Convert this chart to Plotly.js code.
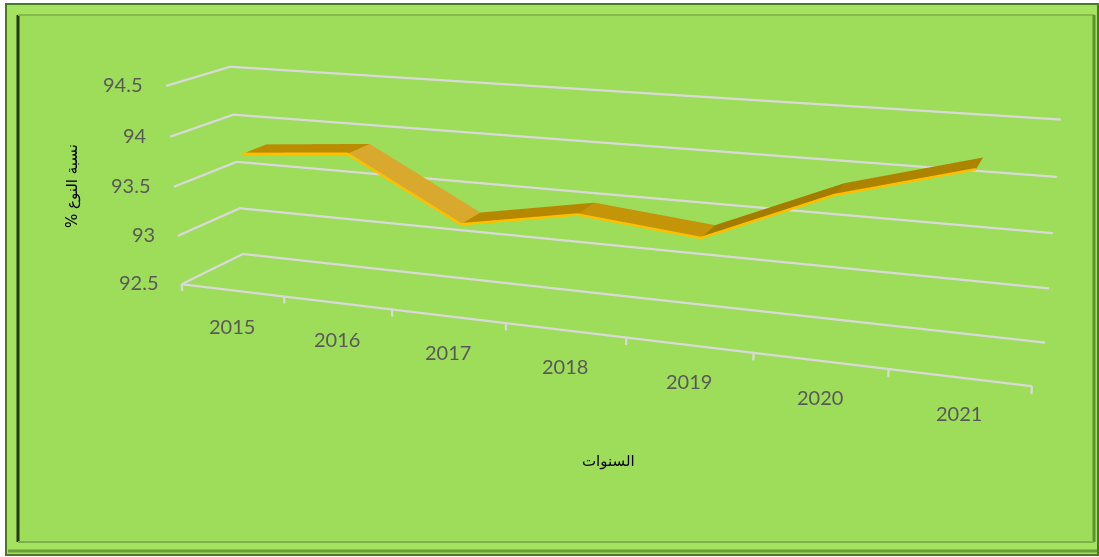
<!DOCTYPE html>
<html><head><meta charset="utf-8">
<script src="https://cdn.plot.ly/plotly-3.0.1.min.js"></script>
<style>
html,body{margin:0;padding:0;overflow:hidden;background:#fff}
#wrap{position:relative;width:1099px;height:557px;overflow:hidden}
#chart{position:absolute;left:-14px;top:-454px;width:1200px;height:1325px}
</style>
</head><body><div id="wrap"><div id="chart"></div></div>
<script>
// ---- data ----
const years = ['2015', '2016', '2017', '2018', '2019', '2020', '2021'];
const ratio = [93.8, 93.89, 93.3, 93.5, 93.39, 93.88, 94.2];
const zTickVals = [92.5, 93, 93.5, 94, 94.5];
const zTickText = ['92.5', '93', '93.5', '94', '94.5'];
const xTitle = 'السنوات';
const yTitle = '% نسبة النوع';

// ---- page geometry (big plot div; the window shows a band of it) ----
const BW = 1200, BH = 1325, LEFT = -14, TOP = -454;
const px = x => (x - LEFT) / BW;
const py = y => 1 - (y - TOP) / BH;

const idx = years.map((_, i) => i);
const xEdge = [-0.5, years.length - 0.5];
const dEdge = [0, 1];
const zEdge = [zTickVals[0], zTickVals[zTickVals.length - 1]];
const front = 0.3, back = 0.7;
const tickLen = 0.07;
const grid = '#d9d9d9';
const lw = 4.5;

const traces = [];
// wall grid lines (side wall + back wall) at every value tick
zTickVals.forEach(v => traces.push({
  type: 'scatter3d', mode: 'lines',
  x: [xEdge[0], xEdge[0], xEdge[1]], y: [dEdge[0], dEdge[1], dEdge[1]], z: [v, v, v],
  line: {color: grid, width: lw}, hoverinfo: 'skip', showlegend: false
}));
// front floor edge
traces.push({
  type: 'scatter3d', mode: 'lines',
  x: xEdge, y: [dEdge[0], dEdge[0]], z: [zEdge[0], zEdge[0]],
  line: {color: grid, width: lw}, hoverinfo: 'skip', showlegend: false
});
// category tick marks at the category boundaries
idx.concat([years.length]).forEach(i => traces.push({
  type: 'scatter3d', mode: 'lines',
  x: [i - 0.5, i - 0.5], y: [dEdge[0], dEdge[0]], z: [zEdge[0], zEdge[0] - tickLen],
  line: {color: grid, width: lw}, hoverinfo: 'skip', showlegend: false
}));
// the ribbon (top face), each segment shaded by its slope
const mx = [], my = [], mz = [], ti = [], tj = [], tk = [], inten = [];
ratio.forEach((v, i) => { mx.push(i, i); my.push(front, back); mz.push(v, v); });
for (let s = 0; s < ratio.length - 1; s++) {
  const a = 2 * s, b = 2 * s + 1, c = 2 * s + 2, d = 2 * s + 3;
  ti.push(a, b); tj.push(b, d); tk.push(c, c);
  const slope = ratio[s + 1] - ratio[s];
  inten.push(slope, slope);
}
traces.push({
  type: 'mesh3d', x: mx, y: my, z: mz, i: ti, j: tj, k: tk,
  intensity: inten, intensitymode: 'cell', cmin: -0.6, cmax: 0.6,
  colorscale: [[0, '#d8a92e'], [0.5, '#c09000'], [1, '#9e7700']],
  showscale: false, flatshading: true, hoverinfo: 'skip',
  lighting: {ambient: 1, diffuse: 0, specular: 0, roughness: 1, fresnel: 0}
});
// front (yellow) edge of the ribbon
traces.push({
  type: 'scatter3d', mode: 'lines',
  x: idx, y: idx.map(() => front), z: ratio,
  line: {color: '#ffc000', width: 5}, hoverinfo: 'skip', showlegend: false
});

const labelFont = {family: 'Lato, "Open Sans", sans-serif', size: 20, color: '#595959'};
const sceneAnn = [];
years.forEach((t, i) => sceneAnn.push({
  x: idx[i], y: dEdge[0], z: zEdge[0], text: t, showarrow: false,
  xanchor: 'center', yanchor: 'middle', yshift: -36, font: labelFont
}));
zTickVals.forEach((v, i) => sceneAnn.push({
  x: xEdge[0], y: dEdge[0], z: v, text: zTickText[i], showarrow: false,
  xanchor: 'right', yanchor: 'middle', xshift: -21, yshift: 2, font: labelFont
}));

const shapes = [
  {type: 'rect', xref: 'paper', yref: 'paper', x0: px(6), x1: px(1098), y0: py(4), y1: py(555),
   fillcolor: '#a3e35f', line: {color: '#4b7a25', width: 2}, layer: 'below'},
  {type: 'rect', xref: 'paper', yref: 'paper', x0: px(18), x1: px(1094), y0: py(15), y1: py(542),
   fillcolor: '#9edd5a', line: {width: 0}, layer: 'below'},
  {type: 'line', xref: 'paper', yref: 'paper', x0: px(18), x1: px(18), y0: py(15), y1: py(542),
   line: {color: '#22380f', width: 3}, layer: 'below'},
  {type: 'line', xref: 'paper', yref: 'paper', x0: px(18), x1: px(1094), y0: py(15), y1: py(15),
   line: {color: '#86b84f', width: 2}, layer: 'below'},
  {type: 'line', xref: 'paper', yref: 'paper', x0: px(1094), x1: px(1094), y0: py(15), y1: py(542),
   line: {color: '#5f8f35', width: 3}, layer: 'below'},
  {type: 'line', xref: 'paper', yref: 'paper', x0: px(18), x1: px(1094), y0: py(542), y1: py(542),
   line: {color: '#7fb04b', width: 2}, layer: 'below'},
  {type: 'line', xref: 'paper', yref: 'paper', x0: px(8), x1: px(1097), y0: py(551), y1: py(551),
   line: {color: '#6c9c3c', width: 3}, layer: 'below'}
];

const hidden = {showgrid: false, zeroline: false, showline: false, showticklabels: false,
  showbackground: false, showspikes: false, title: {text: ''}, ticks: ''};

// axis ranges padded slightly so the edge lines are not clipped;
// aspect ratios and camera keep the original box geometry
const layout = {
  width: BW, height: BH,
  margin: {l: 0, r: 0, t: 0, b: 0},
  paper_bgcolor: '#ffffff',
  showlegend: false,
  shapes: shapes,
  annotations: [
    {text: xTitle, xref: 'paper', yref: 'paper', x: px(608), y: py(461), xanchor: 'center', yanchor: 'middle',
     showarrow: false, font: {family: '"DejaVu Sans", sans-serif', size: 15, color: '#000'}},
    {text: yTitle, xref: 'paper', yref: 'paper', x: px(72), y: py(186), xanchor: 'center', yanchor: 'middle',
     showarrow: false, textangle: -90, font: {family: '"DejaVu Sans", sans-serif', size: 15, color: '#000'}}
  ],
  scene: {
    domain: {x: [0, 1], y: [0, 1]},
    aspectmode: 'manual',
    aspectratio: {x: 2.01143, y: 0.2808, z: 0.51728},
    bgcolor: 'rgba(0,0,0,0)',
    camera: {
      eye: {x: 1.242, y: -3.236, z: 0.94476},
      center: {x: 0, y: 0, z: 0.00976},
      up: {x: -0.0852, y: 0.2463, z: 0.9655},
      projection: {type: 'perspective'}
    },
    annotations: sceneAnn,
    xaxis: Object.assign({}, hidden, {range: [-0.52, 6.52]}),
    yaxis: Object.assign({}, hidden, {range: [-0.02, 1.02]}),
    zaxis: Object.assign({}, hidden, {range: [92.4, 94.52]})
  }
};

Plotly.newPlot('chart', traces, layout, {displayModeBar: false});
</script>
</body></html>
